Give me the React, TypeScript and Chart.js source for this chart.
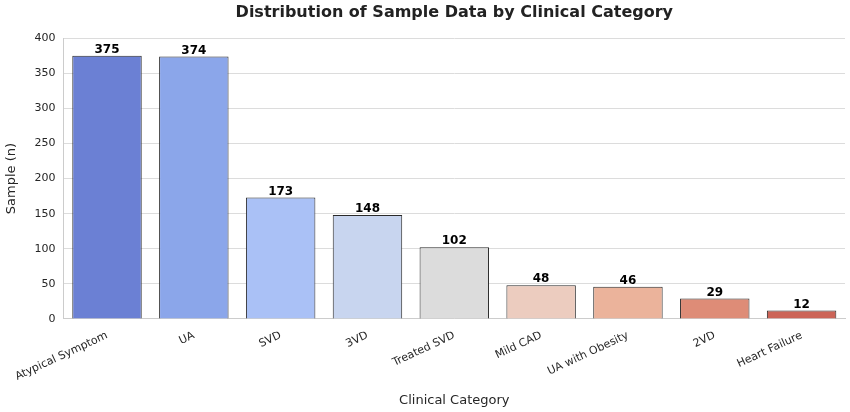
import { useEffect, useRef } from 'react';
import Chart, { Plugin } from 'chart.js/auto';

const categories = [
  'Atypical Symptom',
  'UA',
  'SVD',
  '3VD',
  'Treated SVD',
  'Mild CAD',
  'UA with Obesity',
  '2VD',
  'Heart Failure',
];
const samples = [375, 374, 173, 148, 102, 48, 46, 29, 12];
const barColors = [
  '#6b80d4',
  '#8ba6ea',
  '#aac1f6',
  '#c8d5ef',
  '#dcdcdc',
  '#ecccbf',
  '#ebb39b',
  '#de8c77',
  '#cc6457',
];

const FONT = '"DejaVu Sans", sans-serif';

// draws the count above each bar
const valueLabels: Plugin<'bar'> = {
  id: 'valueLabels',
  afterDatasetsDraw(chart) {
    const { ctx } = chart;
    const meta = chart.getDatasetMeta(0);
    ctx.save();
    ctx.font = `bold 12px ${FONT}`;
    ctx.fillStyle = '#000';
    ctx.textAlign = 'center';
    ctx.textBaseline = 'bottom';
    meta.data.forEach((bar, i) => {
      ctx.fillText(String(samples[i]), bar.x, bar.y);
    });
    ctx.restore();
  },
};

export default function App() {
  const canvasRef = useRef<HTMLCanvasElement | null>(null);

  useEffect(() => {
    document.body.style.margin = '0';
    if (!canvasRef.current) return undefined;

    const chart = new Chart(canvasRef.current, {
      type: 'bar',
      data: {
        labels: categories,
        datasets: [
          {
            data: samples,
            backgroundColor: barColors,
            borderColor: '#2a2a2a',
            borderWidth: 1,
            barPercentage: 0.8,
            categoryPercentage: 1,
          },
        ],
      },
      options: {
        animation: false,
        responsive: false,
        layout: { padding: { top: 3, right: 5, left: 4, bottom: 0 } },
        plugins: {
          legend: { display: false },
          tooltip: { enabled: false },
          title: {
            display: true,
            fullSize: false,
            text: 'Distribution of Sample Data by Clinical Category',
            color: '#222',
            font: { family: FONT, size: 16, weight: 'bold' },
            padding: { top: 0, bottom: 16 },
          },
        },
        scales: {
          x: {
            grid: { display: false },
            border: { display: true, color: '#ccc', width: 1 },
            ticks: {
              color: '#262626',
              font: { family: FONT, size: 11 },
              maxRotation: 25,
              minRotation: 25,
              padding: 2,
            },
            title: {
              display: true,
              text: 'Clinical Category',
              color: '#262626',
              font: { family: FONT, size: 13 },
              padding: { top: 7, bottom: 4 },
            },
          },
          y: {
            min: 0,
            max: 400,
            ticks: {
              stepSize: 50,
              color: '#262626',
              font: { family: FONT, size: 11 },
              padding: 8,
            },
            grid: { color: '#dcdcdc', drawTicks: false },
            border: { display: true, color: '#ccc', width: 1 },
            title: {
              display: true,
              text: 'Sample (n)',
              color: '#262626',
              font: { family: FONT, size: 13 },
              padding: { top: 0, bottom: 7 },
            },
          },
        },
      },
      plugins: [valueLabels],
    });

    return () => {
      chart.destroy();
    };
  }, []);

  return (
    <div style={{ width: 850, height: 412 }}>
      <canvas ref={canvasRef} width={850} height={412} />
    </div>
  );
}
